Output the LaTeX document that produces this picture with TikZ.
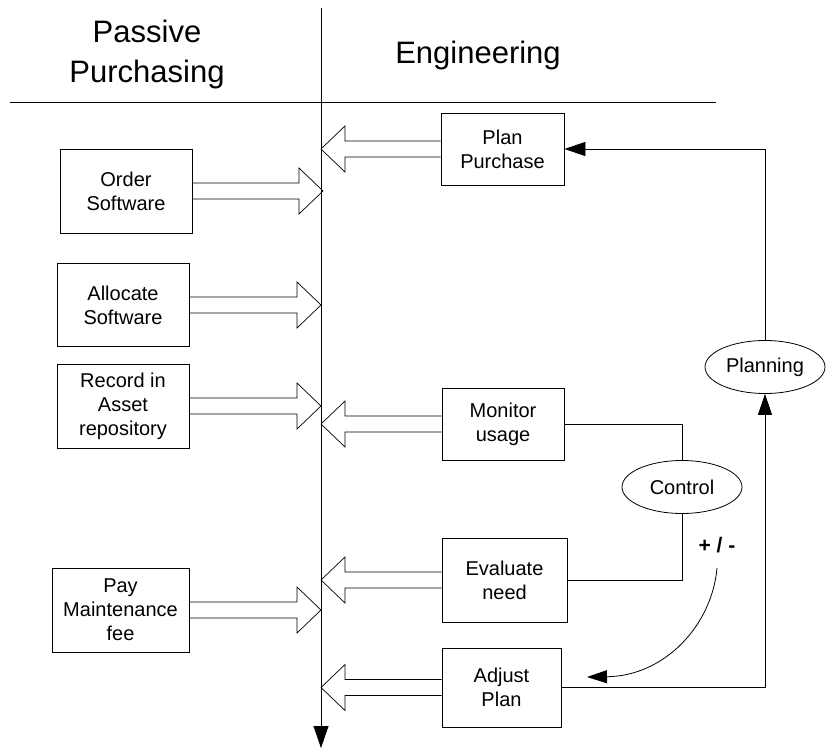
\documentclass[tikz,border=0pt]{standalone}
\usepackage{fontspec}
\setmainfont{Liberation Sans}
\usetikzlibrary{arrows.meta,calc,shapes.geometric}
\newcommand{\blockarrow}[2]{%
  \draw[blockline] let \p1=(#1), \p2=(#2), \n1={ifthenelse(\x2>\x1,1,-1)} in
    (\x1,\y1+8pt) -- (\x2-\n1*24pt,\y1+8pt) -- (\x2-\n1*24pt,\y1+23pt) -- (\x2,\y1)
    -- (\x2-\n1*24pt,\y1-23pt) -- (\x2-\n1*24pt,\y1-8pt) -- (\x1,\y1-8pt);}
\begin{document}
\begin{tikzpicture}[x=1pt,y=-1pt,
  box/.style={draw, line width=0.8pt, inner sep=0pt, align=center, font=\fontsize{20}{24}\selectfont},
  oval/.style={draw, ellipse, line width=0.8pt, minimum width=120pt, minimum height=53pt, inner sep=0pt, font=\fontsize{20}{24}\selectfont},
  title/.style={font=\fontsize{31}{40}\selectfont, anchor=base},
  plainline/.style={line width=0.8pt},
  blockline/.style={line width=0.7pt},
  tiparrow/.style={-{Triangle[length=21pt,width=14pt]}}
]
\useasboundingbox (0,0) rectangle (827,749);
% titles
\node[title] (t1) at (147,43) {Passive};
\node[title] (t2) at (147,83) {Purchasing};
\node[title] (t3) at (478,64) {Engineering};
% axes
\coordinate (vtop) at (321,8);
\coordinate (vbot) at (321,748);
\draw[plainline, -{Triangle[length=22pt,width=15pt]}] (vtop) -- (vbot);
\coordinate (hl) at (10,102);
\coordinate (hr) at (716,102);
\draw[plainline] (hl) -- (hr);
\coordinate (axL) at (321,0);
\coordinate (axR) at (323,0);
% left boxes
\node[box, minimum width=132pt, minimum height=84pt] (order) at (126,191) {Order\\Software};
\node[box, minimum width=132pt, minimum height=83pt] (alloc) at (123,305) {Allocate\\Software};
\node[box, minimum width=132pt, minimum height=84pt] (record) at (123,406) {Record in\\Asset\\repository};
\node[box, minimum width=137pt, minimum height=84pt] (pay) at (120.5,610) {Pay\\Maintenance\\fee};
% right boxes
\node[box, minimum width=123pt, minimum height=72pt] (plan) at (502.5,149) {Plan\\Purchase};
\node[box, minimum width=122pt, minimum height=72pt] (monitor) at (503,424) {Monitor\\usage};
\node[box, minimum width=125pt, minimum height=84pt] (evaluate) at (504.5,580) {Evaluate\\need};
\node[box, minimum width=119pt, minimum height=79pt] (adjust) at (501.5,687.5) {Adjust\\Plan};
% ellipses
\node[oval] (planning) at (765,367) {Planning};
\node[oval] (control) at (682,487) {Control};
% block arrows
\blockarrow{order.east}{axR}
\blockarrow{alloc.east}{axL}
\blockarrow{record.east}{axL}
\blockarrow{pay.east}{axL}
\blockarrow{plan.west}{axL}
\blockarrow{monitor.west}{axL}
\blockarrow{evaluate.west}{axL}
\blockarrow{adjust.west}{axL}
% connectors
\draw[plainline, tiparrow] (planning.north) |- (plan.east);
\draw[plainline] (monitor.east) -| (control.north);
\draw[plainline] (evaluate.east) -| (control.south);
\draw[plainline, tiparrow] (adjust.east) -| (planning.south);
% +/- feedback
\node[font=\fontsize{21}{24}\selectfont\bfseries] (pm) at (717,545) {+ / -};
\coordinate (cs) at (717,568);
\coordinate (ce) at (587,677);
\draw[plainline, -{Triangle[length=20pt,width=13pt]}] (cs) .. controls (712,625) and (665,676) .. (ce);
\end{tikzpicture}
\end{document}
